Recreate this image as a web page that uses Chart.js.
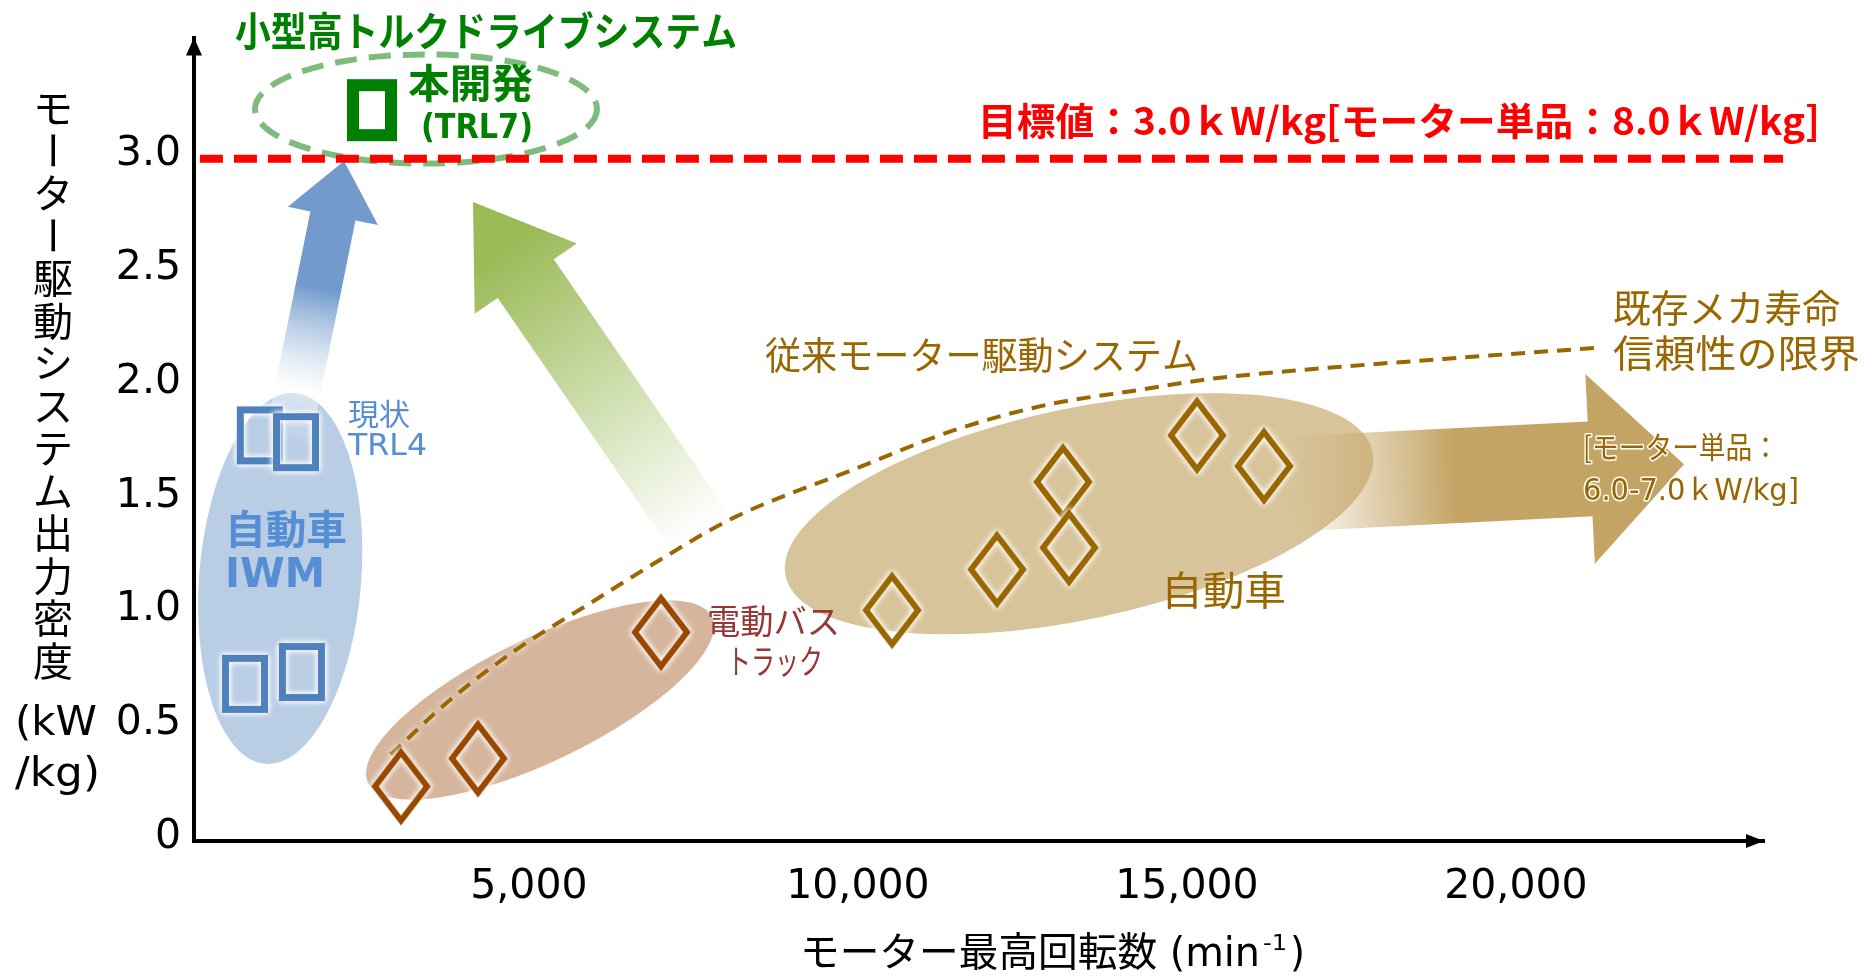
<!DOCTYPE html>
<html>
<head>
<meta charset="utf-8">
<script src="https://cdn.jsdelivr.net/npm/chart.js@4.4.1/dist/chart.umd.min.js"></script>
<style>
    html, body { margin: 0; padding: 0; background: #fff; }
    #wrap { width: 1864px; height: 977px; }
</style>
</head>
<body>
<div id="wrap"><canvas id="chart" width="1864" height="977"></canvas></div>
<script>
// axis ticks
const xTicks = [5000, 10000, 15000, 20000];
const yTicks = [0, 0.5, 1.0, 1.5, 2.0, 2.5, 3.0];

// 自動車 IWM (現状 TRL4)
const iwmRpm = [910, 1460, 685, 1550];
const iwmDensity = [1.784, 1.754, 0.691, 0.743];

// 本開発 (TRL7)
const devRpm = [2615];
const devDensity = [3.214];

// 電動バス / トラック
const busRpm = [3056, 4226, 7007];
const busDensity = [0.24, 0.363, 0.918];

// 自動車
const carRpm = [10518, 12114, 13116, 13208, 15153, 16171];
const carDensity = [1.015, 1.194, 1.579, 1.29, 1.784, 1.649];

// 既存メカ寿命・信頼性の限界 (dashed curve)
const curveRpm = [2900, 3800, 4800, 5900, 6900, 8100, 9900, 11500, 12900, 14200, 15300, 16700, 18900, 21300];
const curveDensity = [0.38, 0.62, 0.84, 1.04, 1.22, 1.42, 1.63, 1.81, 1.92, 1.98, 2.03, 2.07, 2.12, 2.17];

// 目標値 3.0 kW/kg
const targetRpm = [0, 24060];
const targetDensity = [3.0, 3.0];

const FONT = '"DejaVu Sans", "Noto Sans CJK JP", sans-serif';
const JP_FONT = '"Noto Sans CJK JP", "DejaVu Sans", sans-serif';
const BROWN = 'rgb(153,102,0)';

// Regions and arrows, in data units (converted through the scales)
const regions = [
    { x: 1220, y: 1.155, rx: 1231, ry: 0.818, rot: 0.08, fill: 'rgb(185,205,229)' },
    { x: 5168, y: 0.62, rx: 2900, ry: 0.27, rot: -0.45, fill: 'rgb(213,181,156)' },
    { x: 13360, y: 1.439, rx: 4559, ry: 0.464, rot: -0.209, fill: 'rgb(216,196,155)' }
];
const devRing = { x: 3436, y: 3.219, rx: 2599, ry: 0.24, rot: 0, stroke: 'rgb(125,188,125)' };

const arrows = [
    { from: [1323, 1.75], to: [2190, 2.99], shaft: 46, head: 56, headW: 92,
      stops: [[0, 'rgba(255,255,255,0)'], [0.18, 'rgba(255,255,255,0.5)'], [0.55, 'rgb(114,155,204)'], [1, 'rgb(114,155,204)']] },
    { from: [7600, 1.36], to: [4150, 2.81], shaft: 68, head: 93, headW: 124,
      stops: [[0, 'rgba(155,187,89,0)'], [0.85, 'rgba(155,187,89,1)'], [1, 'rgb(155,187,89)']] },
    { from: [16567, 1.57], to: [22554, 1.657], shaft: 95, head: 94, headW: 190,
      stops: [[0, 'rgba(196,164,101,0)'], [0.42, 'rgba(196,164,101,1)'], [1, 'rgb(196,164,101)']] }
];

function markerCanvas(w, h, draw) {
    const pad = 8;
    const c = document.createElement('canvas');
    c.width = w + pad * 2;
    c.height = h + pad * 2;
    const g = c.getContext('2d');
    g.translate(c.width / 2, c.height / 2);
    draw(g);
    return c;
}

function diamondMarker(color) {
    return markerCanvas(60, 78, g => {
        const path = () => {
            g.beginPath();
            g.moveTo(0, -34); g.lineTo(26, 0); g.lineTo(0, 34); g.lineTo(-26, 0);
            g.closePath();
        };
        g.lineJoin = 'miter';
        g.lineWidth = 6;
        g.shadowColor = '#fff';
        g.shadowBlur = 6;
        g.strokeStyle = '#fff';
        path(); g.stroke(); g.stroke();
        g.shadowBlur = 0;
        g.strokeStyle = color;
        path(); g.stroke();
    });
}

function rectMarker(w, h, lw, color) {
    return markerCanvas(w, h, g => {
        g.lineWidth = lw;
        g.shadowColor = '#fff';
        g.shadowBlur = 6;
        g.strokeStyle = '#fff';
        g.strokeRect(-w / 2 + lw / 2, -h / 2 + lw / 2, w - lw, h - lw);
        g.strokeRect(-w / 2 + lw / 2, -h / 2 + lw / 2, w - lw, h - lw);
        g.shadowBlur = 0;
        g.strokeStyle = color;
        g.strokeRect(-w / 2 + lw / 2, -h / 2 + lw / 2, w - lw, h - lw);
    });
}

function toPoints(xs, ys) {
    return xs.map((x, i) => ({ x: x, y: ys[i] }));
}

function toPx(chart, x, y) {
    return [chart.scales.x.getPixelForValue(x), chart.scales.y.getPixelForValue(y)];
}

function drawEllipse(chart, e) {
    const ctx = chart.ctx;
    const [cx, cy] = toPx(chart, e.x, e.y);
    const rx = Math.abs(chart.scales.x.getPixelForValue(e.x + e.rx) - cx);
    const ry = Math.abs(chart.scales.y.getPixelForValue(e.y + e.ry) - cy);
    ctx.save();
    ctx.beginPath();
    ctx.ellipse(cx, cy, rx, ry, e.rot, 0, Math.PI * 2);
    if (e.fill) {
        ctx.fillStyle = e.fill;
        ctx.fill();
    }
    if (e.stroke) {
        ctx.shadowColor = '#fff';
        ctx.shadowBlur = 8;
        ctx.setLineDash([22, 12]);
        ctx.lineWidth = 6;
        ctx.strokeStyle = e.stroke;
        ctx.stroke();
    }
    ctx.restore();
}

function drawArrow(chart, a) {
    const ctx = chart.ctx;
    const [x0, y0] = toPx(chart, a.from[0], a.from[1]);
    const [x1, y1] = toPx(chart, a.to[0], a.to[1]);
    const len = Math.hypot(x1 - x0, y1 - y0);
    ctx.save();
    ctx.translate(x0, y0);
    ctx.rotate(Math.atan2(y1 - y0, x1 - x0));
    const grad = ctx.createLinearGradient(0, 0, len, 0);
    a.stops.forEach(s => grad.addColorStop(s[0], s[1]));
    ctx.fillStyle = grad;
    ctx.beginPath();
    ctx.moveTo(0, -a.shaft / 2);
    ctx.lineTo(len - a.head, -a.shaft / 2);
    ctx.lineTo(len - a.head, -a.headW / 2);
    ctx.lineTo(len, 0);
    ctx.lineTo(len - a.head, a.headW / 2);
    ctx.lineTo(len - a.head, a.shaft / 2);
    ctx.lineTo(0, a.shaft / 2);
    ctx.closePath();
    ctx.fill();
    ctx.restore();
}

// text squeezed to the width it takes in the reference
function drawText(ctx, str, x, y, o) {
    ctx.save();
    ctx.font = `${o.bold ? 'bold ' : ''}${o.size}px ${o.family || FONT}`;
    ctx.textBaseline = 'middle';
    ctx.textAlign = 'left';
    const w = ctx.measureText(str).width;
    ctx.translate(x, y);
    if (o.width) ctx.scale(o.width / w, 1);
    if (o.halo) {
        ctx.lineJoin = 'round';
        ctx.lineWidth = o.halo;
        ctx.strokeStyle = '#fff';
        ctx.strokeText(str, 0, 0);
    }
    ctx.fillStyle = o.color;
    ctx.fillText(str, 0, 0);
    ctx.restore();
}

const decorPlugin = {
    id: 'decor',
    beforeDatasetsDraw(chart) {
        regions.forEach(r => drawEllipse(chart, r));
        drawEllipse(chart, devRing);
        arrows.forEach(a => drawArrow(chart, a));
    },
    beforeDatasetDraw(chart, args) {
        if (args.meta.label === 'curve') {
            chart.ctx.save();
            chart.ctx.shadowColor = '#fff';
            chart.ctx.shadowBlur = 6;
        }
    },
    afterDatasetDraw(chart, args) {
        if (args.meta.label === 'curve') chart.ctx.restore();
    },
    afterDraw(chart) {
        const ctx = chart.ctx;
        const area = chart.chartArea;

        // axis arrow heads
        ctx.save();
        ctx.fillStyle = '#000';
        ctx.beginPath();
        ctx.moveTo(area.left, area.top);
        ctx.lineTo(area.left - 8, area.top + 18);
        ctx.lineTo(area.left + 8, area.top + 18);
        ctx.closePath();
        ctx.fill();
        ctx.beginPath();
        ctx.moveTo(area.right, area.bottom);
        ctx.lineTo(area.right - 18, area.bottom - 7);
        ctx.lineTo(area.right - 18, area.bottom + 7);
        ctx.closePath();
        ctx.fill();
        ctx.restore();

        // y axis title, written vertically
        const chars = 'モーター駆動システム出力密度'.split('');
        ctx.save();
        ctx.font = `40px ${JP_FONT}`;
        ctx.fillStyle = '#000';
        ctx.textAlign = 'center';
        ctx.textBaseline = 'middle';
        chars.forEach((ch, i) => {
            const cy = 108 + i * 42.5;
            ctx.save();
            ctx.translate(53, cy);
            if (ch === 'ー') ctx.rotate(Math.PI / 2);
            ctx.fillText(ch, 0, 0);
            ctx.restore();
        });
        ctx.restore();
        drawText(ctx, '(kW', 15, 725, { size: 40, color: '#000', width: 82 });
        drawText(ctx, '/kg)', 15, 776, { size: 40, color: '#000', width: 85 });

        // x axis title
        drawText(ctx, 'モーター最高回転数 (min', 800, 956, { size: 40, color: '#000', width: 460 });
        drawText(ctx, '-1', 1263, 944, { size: 22, color: '#000', width: 24 });
        drawText(ctx, ')', 1290, 956, { size: 40, color: '#000', width: 15 });

        // target
        drawText(ctx, '目標値：3.0ｋW/kg[モーター単品：8.0ｋW/kg]', 978, 121,
            { size: 38, bold: true, color: '#ff0000', width: 842, family: JP_FONT });

        // development
        drawText(ctx, '小型高トルクドライブシステム', 235, 31,
            { size: 40, bold: true, color: 'rgb(0,128,0)', width: 502, halo: 4, family: JP_FONT });
        drawText(ctx, '本開発', 408, 83, { size: 40, bold: true, color: 'rgb(0,128,0)', width: 125, family: JP_FONT });
        drawText(ctx, '(TRL7)', 421, 129, { size: 34, bold: true, color: 'rgb(0,128,0)', width: 112 });

        // IWM
        drawText(ctx, '現状', 348, 414, { size: 30, color: 'rgb(85,142,213)', width: 62, family: JP_FONT });
        drawText(ctx, 'TRL4', 348, 447, { size: 30, color: 'rgb(85,142,213)', width: 79 });
        drawText(ctx, '自動車', 225, 529, { size: 40, bold: true, color: 'rgb(85,142,213)', width: 122, family: JP_FONT });
        drawText(ctx, 'IWM', 225, 577, { size: 40, bold: true, color: 'rgb(85,142,213)', width: 100 });

        // bus / truck
        drawText(ctx, '電動バス', 707, 621, { size: 34, color: 'rgb(149,55,53)', width: 133, family: JP_FONT });
        drawText(ctx, 'トラック', 727, 661, { size: 34, color: 'rgb(149,55,53)', width: 96, family: JP_FONT });

        // conventional systems
        drawText(ctx, '従来モーター駆動システム', 765, 355, { size: 38, color: BROWN, width: 433, family: JP_FONT });
        drawText(ctx, '既存メカ寿命', 1613, 308, { size: 38, color: BROWN, width: 227, family: JP_FONT });
        drawText(ctx, '信頼性の限界', 1613, 353, { size: 38, color: BROWN, width: 247, family: JP_FONT });
        drawText(ctx, '自動車', 1161, 590, { size: 40, color: BROWN, width: 125, family: JP_FONT });
        drawText(ctx, '[モーター単品：', 1583, 447, { size: 30, color: BROWN, width: 196, halo: 3, family: JP_FONT });
        drawText(ctx, '6.0-7.0ｋW/kg]', 1583, 492, { size: 30, color: BROWN, width: 216, halo: 3 });
    }
};

const ctx = document.getElementById('chart').getContext('2d');

new Chart(ctx, {
    type: 'scatter',
    data: {
        datasets: [
            {
                label: 'dev',
                data: toPoints(devRpm, devDensity),
                pointStyle: rectMarker(50, 62, 12, 'rgb(0,128,0)'),
                pointRadius: 5,
                order: 0
            },
            {
                label: 'target',
                data: toPoints(targetRpm, targetDensity),
                showLine: true,
                borderColor: '#ff0000',
                borderWidth: 8,
                borderDash: [23, 11],
                pointRadius: 0,
                clip: false,
                order: 1
            },
            {
                label: 'iwm',
                data: toPoints(iwmRpm, iwmDensity),
                pointStyle: rectMarker(46, 58, 7, 'rgb(79,129,189)'),
                pointRadius: 5,
                order: 2
            },
            {
                label: 'car',
                data: toPoints(carRpm, carDensity),
                pointStyle: diamondMarker('rgb(153,102,0)'),
                pointRadius: 5,
                order: 3
            },
            {
                label: 'bus',
                data: toPoints(busRpm, busDensity),
                pointStyle: diamondMarker('rgb(153,72,0)'),
                pointRadius: 5,
                order: 4
            },
            {
                label: 'curve',
                data: toPoints(curveRpm, curveDensity),
                showLine: true,
                borderColor: BROWN,
                borderWidth: 4,
                borderDash: [14, 9],
                pointRadius: 0,
                cubicInterpolationMode: 'monotone',
                order: 5
            }
        ]
    },
    options: {
        responsive: false,
        animation: false,
        events: [],
        layout: { padding: { top: 33, right: 100, bottom: 0, left: 0 } },
        plugins: {
            legend: { display: false },
            tooltip: { enabled: false },
            title: { display: false }
        },
        scales: {
            x: {
                type: 'linear',
                min: -90,
                max: 23770,
                afterFit: (scale) => { scale.height = 136; },
                afterBuildTicks: (scale) => { scale.ticks = xTicks.map(v => ({ value: v })); },
                grid: { display: false, drawTicks: false },
                border: { display: true, color: '#000', width: 4 },
                ticks: {
                    autoSkip: false,
                    maxRotation: 0,
                    padding: 22,
                    color: '#000',
                    font: { size: 41, family: FONT },
                    callback: (v) => v.toLocaleString('en-US')
                }
            },
            y: {
                type: 'linear',
                min: 0,
                max: 3.533,
                afterFit: (scale) => { scale.width = 194; },
                afterBuildTicks: (scale) => { scale.ticks = yTicks.map(v => ({ value: v })); },
                grid: { display: false, drawTicks: false },
                border: { display: true, color: '#000', width: 4 },
                ticks: {
                    autoSkip: false,
                    padding: 13,
                    labelOffset: -4,
                    color: '#000',
                    font: { size: 41, family: FONT },
                    callback: (v) => v === 0 ? '0' : v.toFixed(1)
                }
            }
        }
    },
    plugins: [decorPlugin]
});
</script>
</body>
</html>
